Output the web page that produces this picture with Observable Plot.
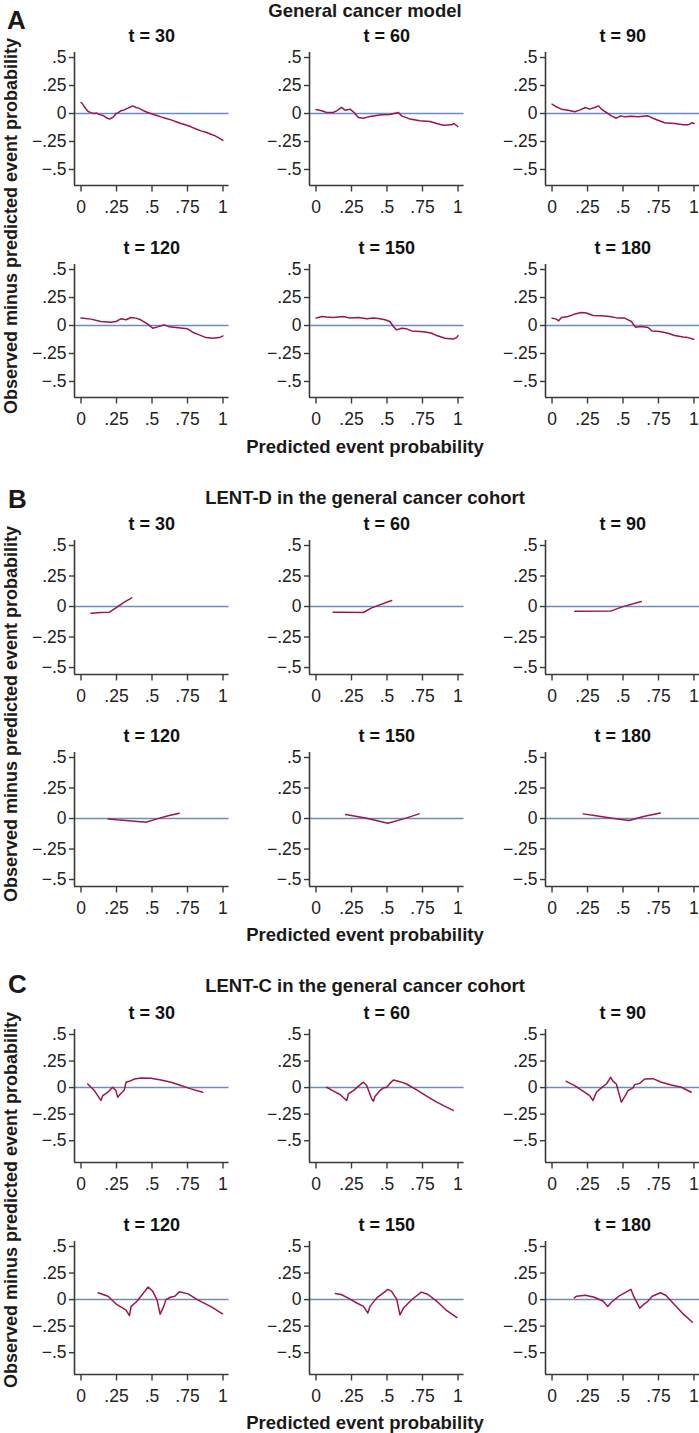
<!DOCTYPE html>
<html><head><meta charset="utf-8">
<script src="https://cdn.jsdelivr.net/npm/d3@7"></script>
<script src="https://cdn.jsdelivr.net/npm/@observablehq/plot@0.6"></script>
<style>
body{margin:0;background:#fff;overflow:hidden;}
#page{position:relative;width:699px;height:1433px;overflow:hidden;background:#fff;font-family:"Liberation Sans",Arial,Helvetica,sans-serif;color:#1a1a1a;}
.abs{position:absolute;white-space:nowrap;line-height:1;}
.letter{font-weight:bold;font-size:26px;}
.stitle{font-weight:bold;font-size:18.5px;transform:translate(-50%,-50%);}
.xlab{font-weight:bold;font-size:18.5px;transform:translate(-50%,-50%);}
.ylab{font-weight:bold;font-size:18px;transform:translate(-50%,-50%) rotate(-90deg);}
.panel{position:absolute;}
.panel svg{max-width:none !important;}
</style></head><body><div id="page"></div>
<script>
// ---------- labels ----------
const sectionLetters = ["A", "B", "C"];
const sectionTitles = ["General cancer model", "LENT-D in the general cancer cohort", "LENT-C in the general cancer cohort"];
const facetTitles = ["t = 30", "t = 60", "t = 90", "t = 120", "t = 150", "t = 180"];
const yAxisLabel = "Observed minus predicted event probability";
const xAxisLabel = "Predicted event probability";
const xTicks = [0, 0.25, 0.5, 0.75, 1];
const xTickLabels = ["0", ".25", ".5", ".75", "1"];
const yTicks = [-0.5, -0.25, 0, 0.25, 0.5];
const yTickLabels = ["\u2212.5", "\u2212.25", "0", ".25", ".5"];

// ---------- data: [predicted, observed - predicted] ----------
// A: General cancer model
const A30 = [[0,0.098],[0.012,0.085],[0.023,0.06],[0.035,0.04],[0.05,0.018],[0.07,0.008],[0.094,0],[0.11,0.004],[0.125,-0.006],[0.14,-0.012],[0.16,-0.02],[0.176,-0.036],[0.19,-0.045],[0.2,-0.05],[0.212,-0.042],[0.223,-0.036],[0.235,-0.02],[0.246,0],[0.26,0.006],[0.28,0.024],[0.3,0.03],[0.33,0.048],[0.345,0.056],[0.364,0.068],[0.375,0.062],[0.387,0.054],[0.405,0.048],[0.42,0.039],[0.445,0.022],[0.47,0.009],[0.505,-0.006],[0.535,-0.018],[0.563,-0.03],[0.6,-0.044],[0.634,-0.057],[0.67,-0.074],[0.704,-0.089],[0.74,-0.103],[0.775,-0.119],[0.81,-0.138],[0.845,-0.155],[0.88,-0.168],[0.915,-0.185],[0.945,-0.2],[0.974,-0.22],[1.0,-0.24]];
const A60 = [[0,0.036],[0.04,0.024],[0.075,0.009],[0.12,0.009],[0.146,0.024],[0.18,0.054],[0.204,0.03],[0.24,0.039],[0.268,0.009],[0.298,-0.036],[0.333,-0.042],[0.369,-0.03],[0.415,-0.021],[0.462,-0.012],[0.52,-0.009],[0.58,0.009],[0.603,-0.021],[0.662,-0.05],[0.732,-0.065],[0.803,-0.071],[0.85,-0.089],[0.897,-0.104],[0.955,-0.101],[0.972,-0.089],[0.998,-0.116]];
const A90 = [[0,0.083],[0.03,0.06],[0.066,0.039],[0.113,0.03],[0.16,0.015],[0.195,0.03],[0.235,0.054],[0.265,0.039],[0.3,0.054],[0.329,0.068],[0.347,0.039],[0.383,0.009],[0.418,-0.021],[0.453,-0.042],[0.484,-0.021],[0.512,-0.03],[0.559,-0.024],[0.606,-0.03],[0.676,-0.021],[0.711,-0.042],[0.746,-0.06],[0.793,-0.083],[0.864,-0.089],[0.923,-0.101],[0.958,-0.101],[0.988,-0.083],[1.0,-0.089]];
const A120 = [[0,0.066],[0.07,0.057],[0.14,0.036],[0.21,0.03],[0.246,0.036],[0.28,0.06],[0.317,0.051],[0.352,0.072],[0.387,0.066],[0.42,0.051],[0.47,0.012],[0.505,-0.024],[0.54,-0.012],[0.587,0.006],[0.622,-0.012],[0.67,-0.018],[0.716,-0.024],[0.75,-0.03],[0.786,-0.06],[0.833,-0.084],[0.88,-0.108],[0.927,-0.114],[0.974,-0.108],[1.0,-0.093]];
const A150 = [[0,0.066],[0.04,0.081],[0.075,0.075],[0.12,0.072],[0.19,0.081],[0.24,0.066],[0.298,0.072],[0.357,0.06],[0.404,0.066],[0.45,0.06],[0.486,0.051],[0.52,0.036],[0.545,-0.009],[0.568,-0.039],[0.603,-0.024],[0.638,-0.03],[0.674,-0.048],[0.732,-0.054],[0.78,-0.06],[0.815,-0.069],[0.85,-0.09],[0.908,-0.114],[0.967,-0.12],[0.99,-0.108],[1.0,-0.09]];
const A180 = [[0,0.066],[0.03,0.057],[0.047,0.042],[0.066,0.072],[0.113,0.081],[0.16,0.102],[0.207,0.117],[0.242,0.111],[0.289,0.09],[0.347,0.087],[0.406,0.081],[0.465,0.066],[0.512,0.066],[0.559,0.036],[0.587,-0.015],[0.629,-0.009],[0.676,-0.018],[0.704,-0.048],[0.758,-0.054],[0.817,-0.069],[0.864,-0.09],[0.923,-0.102],[0.958,-0.108],[0.998,-0.123]];
// B: LENT-D
const B30 = [[0.07,-0.055],[0.14,-0.049],[0.2,-0.046],[0.246,-0.011],[0.305,0.036],[0.357,0.071]];
const B60 = [[0.12,-0.046],[0.17,-0.046],[0.333,-0.049],[0.392,-0.011],[0.533,0.049]];
const B90 = [[0.16,-0.038],[0.418,-0.036],[0.488,-0.005],[0.629,0.041]];
const B120 = [[0.19,-0.003],[0.253,-0.011],[0.378,-0.022],[0.457,-0.03],[0.535,-0.003],[0.614,0.022],[0.692,0.044]];
const B150 = [[0.208,0.033],[0.349,0.005],[0.506,-0.038],[0.616,-0.003],[0.726,0.038]];
const B180 = [[0.22,0.038],[0.298,0.025],[0.424,0.003],[0.543,-0.016],[0.644,0.016],[0.763,0.046]];
// C: LENT-C
const C30 = [[0.047,0.034],[0.094,-0.028],[0.14,-0.121],[0.153,-0.075],[0.188,-0.044],[0.223,0.003],[0.246,-0.028],[0.258,-0.09],[0.282,-0.053],[0.305,-0.022],[0.317,0.05],[0.34,0.059],[0.376,0.081],[0.423,0.09],[0.493,0.087],[0.563,0.072],[0.634,0.05],[0.704,0.019],[0.775,-0.012],[0.857,-0.044]];
const C60 = [[0.075,0.003],[0.12,-0.03],[0.169,-0.065],[0.216,-0.121],[0.228,-0.059],[0.263,-0.028],[0.322,0.04],[0.333,0.05],[0.357,0.019],[0.392,-0.106],[0.404,-0.128],[0.415,-0.084],[0.451,-0.028],[0.474,-0.003],[0.498,0.003],[0.521,0.04],[0.545,0.072],[0.592,0.056],[0.638,0.034],[0.709,-0.022],[0.779,-0.081],[0.85,-0.137],[0.92,-0.184],[0.967,-0.215]];
const C90 = [[0.1,0.059],[0.16,0.019],[0.218,-0.034],[0.265,-0.075],[0.289,-0.121],[0.312,-0.044],[0.347,-0.003],[0.383,0.034],[0.413,0.097],[0.43,0.059],[0.453,0.034],[0.488,-0.137],[0.512,-0.084],[0.535,-0.028],[0.57,-0.003],[0.582,0.028],[0.617,0.04],[0.653,0.081],[0.711,0.084],[0.77,0.05],[0.84,0.025],[0.911,0.003],[0.981,-0.044]];
const C120 = [[0.121,0.064],[0.19,0.032],[0.253,-0.048],[0.316,-0.096],[0.341,-0.15],[0.353,-0.064],[0.394,-0.016],[0.441,0.064],[0.473,0.118],[0.504,0.08],[0.535,0],[0.557,-0.137],[0.583,-0.064],[0.598,0],[0.63,0.022],[0.661,0.032],[0.692,0.073],[0.755,0.054],[0.818,0],[0.912,-0.064],[0.997,-0.134]];
const C150 = [[0.136,0.057],[0.177,0.048],[0.224,0.016],[0.287,-0.032],[0.334,-0.064],[0.365,-0.127],[0.38,-0.064],[0.428,0.016],[0.475,0.064],[0.506,0.096],[0.531,0.08],[0.569,0],[0.591,-0.143],[0.616,-0.08],[0.663,-0.016],[0.695,0.022],[0.742,0.07],[0.789,0.048],[0.851,-0.016],[0.914,-0.096],[0.993,-0.169]];
const C180 = [[0.157,0.016],[0.173,0.032],[0.235,0.041],[0.298,0.022],[0.361,-0.016],[0.392,-0.064],[0.418,-0.025],[0.471,0.032],[0.534,0.08],[0.556,0.096],[0.575,0.032],[0.618,-0.08],[0.644,-0.048],[0.675,-0.016],[0.706,0.032],[0.763,0.064],[0.801,0.041],[0.863,-0.048],[0.926,-0.137],[0.989,-0.213]];

const sectionData = [[A30, A60, A90, A120, A150, A180], [B30, B60, B90, B120, B150, B180], [C30, C60, C90, C120, C150, C180]];

// ---------- layout ----------
const FONT = '"Liberation Sans", Arial, Helvetica, sans-serif';
const lineColor = "#9b1748", zeroColor = "#6b8dc2", axisColor = "#3a3a3a", textColor = "#222";
const xDomain = [-0.046, 1.043];
const yDomains = [[-0.643, 0.545], [-0.557, 0.541], [-0.705, 0.547]];
const frameHeights = [133, 134, 133];
const frameTops = [[52, 264], [540, 752], [1029, 1241]];
const frameLefts = [73.5, 309, 545];
const FW = 154.6, ML = 70, MR = 4, MT = 30, MB = 36;
const letterPos = [[7, 7], [8, 486], [8, 971]];
const titleY = [11, 498, 986];
const yLabelY = [226, 714, 1200];
const xLabelY = [447, 935, 1423];
const titleX = 365;

const page = document.getElementById("page");
function addDiv(cls, text, left, top) {
  const d = document.createElement("div");
  d.className = "abs " + cls;
  d.textContent = text;
  d.style.left = left + "px";
  d.style.top = top + "px";
  page.appendChild(d);
}

const xLab = new Map(xTicks.map((t, i) => [t, xTickLabels[i]]));
const yLab = new Map(yTicks.map((t, i) => [t, yTickLabels[i]]));
const W = ML + FW + MR;

function panel(data, title, yDomain, h) {
  return Plot.plot({
    width: W, height: MT + h + MB,
    marginLeft: ML, marginRight: MR, marginTop: MT, marginBottom: MB,
    x: {domain: xDomain},
    y: {domain: yDomain},
    style: {background: "transparent", fontFamily: FONT, fontSize: "17.5px", color: textColor, overflow: "visible", maxWidth: "none"},
    marks: [
      Plot.ruleY([0], {stroke: zeroColor, strokeWidth: 1.5}),
      Plot.line(data, {x: d => d[0], y: d => d[1], stroke: lineColor, strokeWidth: 1.5}),
      Plot.ruleX([xDomain[0]], {stroke: axisColor, strokeWidth: 1.6}),
      Plot.ruleY([yDomain[0]], {stroke: axisColor, strokeWidth: 1.6}),
      Plot.axisX({ticks: xTicks, tickFormat: d => xLab.get(d), tickSize: 6.5, tickPadding: 9, stroke: axisColor, strokeWidth: 1.4, label: null}),
      Plot.axisY({ticks: yTicks, tickFormat: d => yLab.get(d), tickSize: 5, tickPadding: 3, stroke: axisColor, strokeWidth: 1.4, label: null}),
      Plot.text([title], {frameAnchor: "top", dy: -16, fontWeight: "bold", fontSize: 18, fill: "#111", lineAnchor: "middle"})
    ]
  });
}

sectionData.forEach((panels, s) => {
  addDiv("letter", sectionLetters[s], letterPos[s][0], letterPos[s][1]);
  addDiv("stitle", sectionTitles[s], titleX, titleY[s]);
  addDiv("ylab", yAxisLabel, 11, yLabelY[s]);
  addDiv("xlab", xAxisLabel, titleX, xLabelY[s]);
  panels.forEach((data, k) => {
    const row = Math.floor(k / 3), col = k % 3;
    const svg = panel(data, facetTitles[k], yDomains[s], frameHeights[s]);
    const wrap = document.createElement("div");
    wrap.className = "panel";
    wrap.style.left = (frameLefts[col] - ML) + "px";
    wrap.style.top = (frameTops[s][row] - MT) + "px";
    wrap.style.width = W + "px";
    wrap.appendChild(svg);
    page.appendChild(wrap);
  });
});
</script></body></html>
